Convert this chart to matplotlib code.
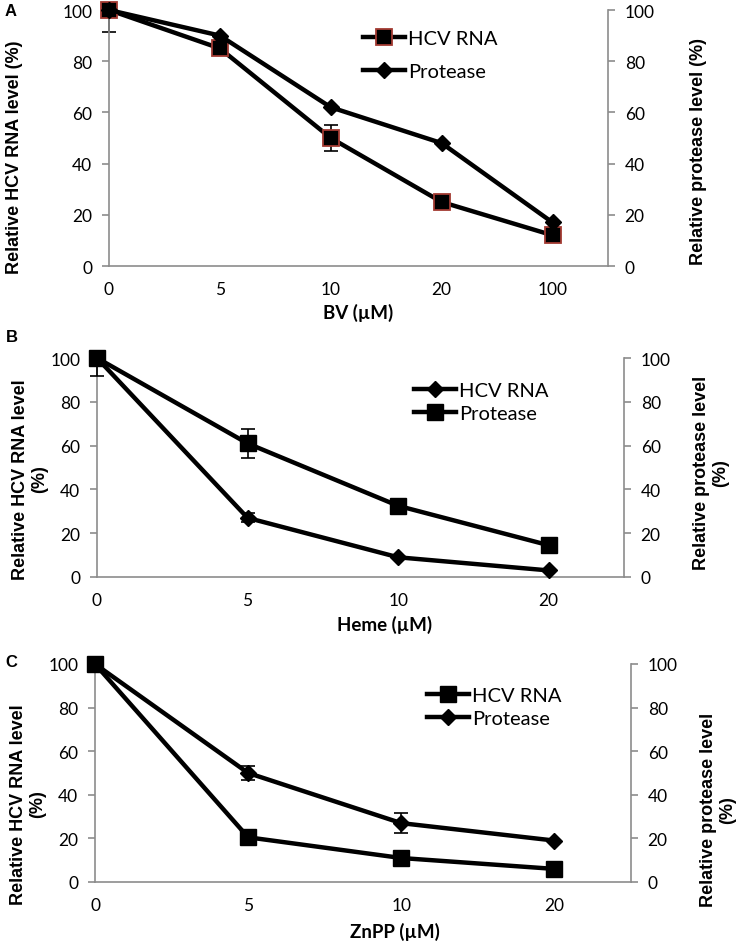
import matplotlib

matplotlib.use("Agg")
import matplotlib.pyplot as plt

# panel A: biliverdin
bv_doses = ["0", "5", "10", "20", "100"]
bv_rna = [100, 85, 50, 25, 12]
bv_rna_err_lo = [8.5, 0, 5, 0, 0]
bv_rna_err_hi = [0, 0, 5, 0, 0]
bv_protease = [100, 90, 62, 48, 17]

# panel B: heme
heme_doses = ["0", "5", "10", "20"]
heme_rna = [100, 27, 9, 3]
heme_rna_err = [0, 2, 0, 0]
heme_protease = [100, 61, 32.5, 14.5]
heme_prot_err_lo = [8, 6.5, 0, 0]
heme_prot_err_hi = [0, 6.5, 0, 0]

# panel C: ZnPP
znpp_doses = ["0", "5", "10", "20"]
znpp_rna = [100, 20.5, 11, 6]
znpp_protease = [100, 50, 27, 19]
znpp_prot_err = [0, 3, 4.5, 0]

GRAY = "#8c8c8c"
TICKFONT = "Lato"
LABELFONT = "Liberation Sans"

fig = plt.figure(figsize=(7.42, 9.45), dpi=100)


def make_axes(rect, n):
    ax = fig.add_axes(rect)
    ax2 = ax.twinx()
    for a in (ax, ax2):
        a.set_xlim(0, n - 0.5)
        a.set_ylim(0, 100)
        a.set_yticks(range(0, 101, 20))
        for s in a.spines.values():
            s.set_color(GRAY)
            s.set_linewidth(1.2)
        a.spines["top"].set_visible(False)
        a.tick_params(axis="y", length=5, width=1.2, color=GRAY, pad=7,
                      labelsize=12.5)
        for lab in a.get_yticklabels():
            lab.set_fontfamily(TICKFONT)
    ax.spines["right"].set_visible(False)
    ax2.spines["left"].set_visible(False)
    ax2.spines["bottom"].set_visible(False)
    ax.set_xticks(range(n))
    ax.tick_params(axis="x", length=0, pad=11, labelsize=12.5)
    return ax, ax2


def series(ax, y, marker, ms, err_lo=None, err_hi=None, mec="black", mew=1):
    x = list(range(len(y)))
    if err_lo is not None:
        eb = ax.errorbar(x, y, yerr=[err_lo, err_hi], fmt="none", ecolor="black",
                         elinewidth=1.2, capsize=5, capthick=1.2, zorder=2)
        for c in eb.get_children():
            c.set_clip_on(False)
    (ln,) = ax.plot(x, y, color="black", lw=3.2, marker=marker, ms=ms,
                    mfc="black", mec=mec, mew=mew, clip_on=False, zorder=3)
    return ln


def style_labels(ax, ax2, xlabel, left, right, lpos, rpos, xpos):
    ax.set_xlabel(xlabel, fontsize=13.5, fontweight="bold", family=TICKFONT,
                  va="center")
    ax.xaxis.set_label_coords(*xpos)
    ax.set_ylabel(left, fontsize=13, fontweight="bold", family=LABELFONT,
                  linespacing=1.15, va="center", ha="center")
    ax.yaxis.set_label_coords(*lpos)
    ax2.set_ylabel(right, fontsize=13, fontweight="bold", family=LABELFONT,
                   rotation=90, linespacing=1.15, va="center", ha="center")
    ax2.yaxis.set_label_coords(*rpos)
    for lab in ax.get_xticklabels():
        lab.set_fontfamily(TICKFONT)


def legend(ax, handles, labels, x, y, spacing):
    ax.legend(handles, labels, loc="center left", bbox_to_anchor=(x / 742, 1 - y / 945),
              bbox_transform=fig.transFigure, frameon=False, borderpad=0,
              borderaxespad=0, handlelength=2.1, handletextpad=0.15,
              labelspacing=spacing, prop={"family": TICKFONT, "size": 14.5})


# --- A ---
axA, axA2 = make_axes([109 / 742, 1 - 267 / 945, 499 / 742, 256 / 945], len(bv_doses))
axA.set_xticklabels(bv_doses)
hA1 = series(axA, bv_rna, "s", 11, bv_rna_err_lo, bv_rna_err_hi, mec="#a23a32", mew=1.3)
hA2 = series(axA2, bv_protease, "D", 8.5)
style_labels(axA, axA2, "BV (µM)", "Relative HCV RNA level (%)",
             "Relative protease level (%)", (-0.19, 0.43), (1.182, 0.45), (0.5, -0.18))
legend(axA2, [hA1, hA2], ["HCV RNA", "Protease"], 363, 56, 0.8)

# --- B ---
axB, axB2 = make_axes([97 / 742, 1 - 578 / 945, 527 / 742, 219 / 945], len(heme_doses))
axB.set_xticklabels(heme_doses)
hB1 = series(axB, heme_rna, "D", 8.5, heme_rna_err, heme_rna_err)
hB2 = series(axB2, heme_protease, "s", 12, heme_prot_err_lo, heme_prot_err_hi)
style_labels(axB, axB2, "Heme (µM)", "Relative HCV RNA level\n(%)",
             "Relative protease level\n(%)", (-0.127, 0.45), (1.165, 0.48), (0.545, -0.215))
legend(axB2, [hB1, hB2], ["HCV RNA", "Protease"], 414, 403, 0.3)

# --- C ---
axC, axC2 = make_axes([95 / 742, 1 - 883 / 945, 536 / 742, 218 / 945], len(znpp_doses))
axC.set_xticklabels(znpp_doses)
hC1 = series(axC, znpp_rna, "s", 12)
hC2 = series(axC2, znpp_protease, "D", 8.5, znpp_prot_err, znpp_prot_err)
style_labels(axC, axC2, "ZnPP (µM)", "Relative HCV RNA level\n(%)",
             "Relative protease level\n(%)", (-0.125, 0.36), (1.162, 0.335), (0.56, -0.225))
legend(axC2, [hC1, hC2], ["HCV RNA", "Protease"], 427, 708, 0.3)

# panel letters
for letter, x, y in [("A", 11, 12), ("B", 12, 337), ("C", 11, 663)]:
    fig.text(x / 742, 1 - y / 945, letter, fontsize=12, fontweight="bold",
             family=LABELFONT, ha="center", va="center")

fig.savefig("out.png", dpi=100)
